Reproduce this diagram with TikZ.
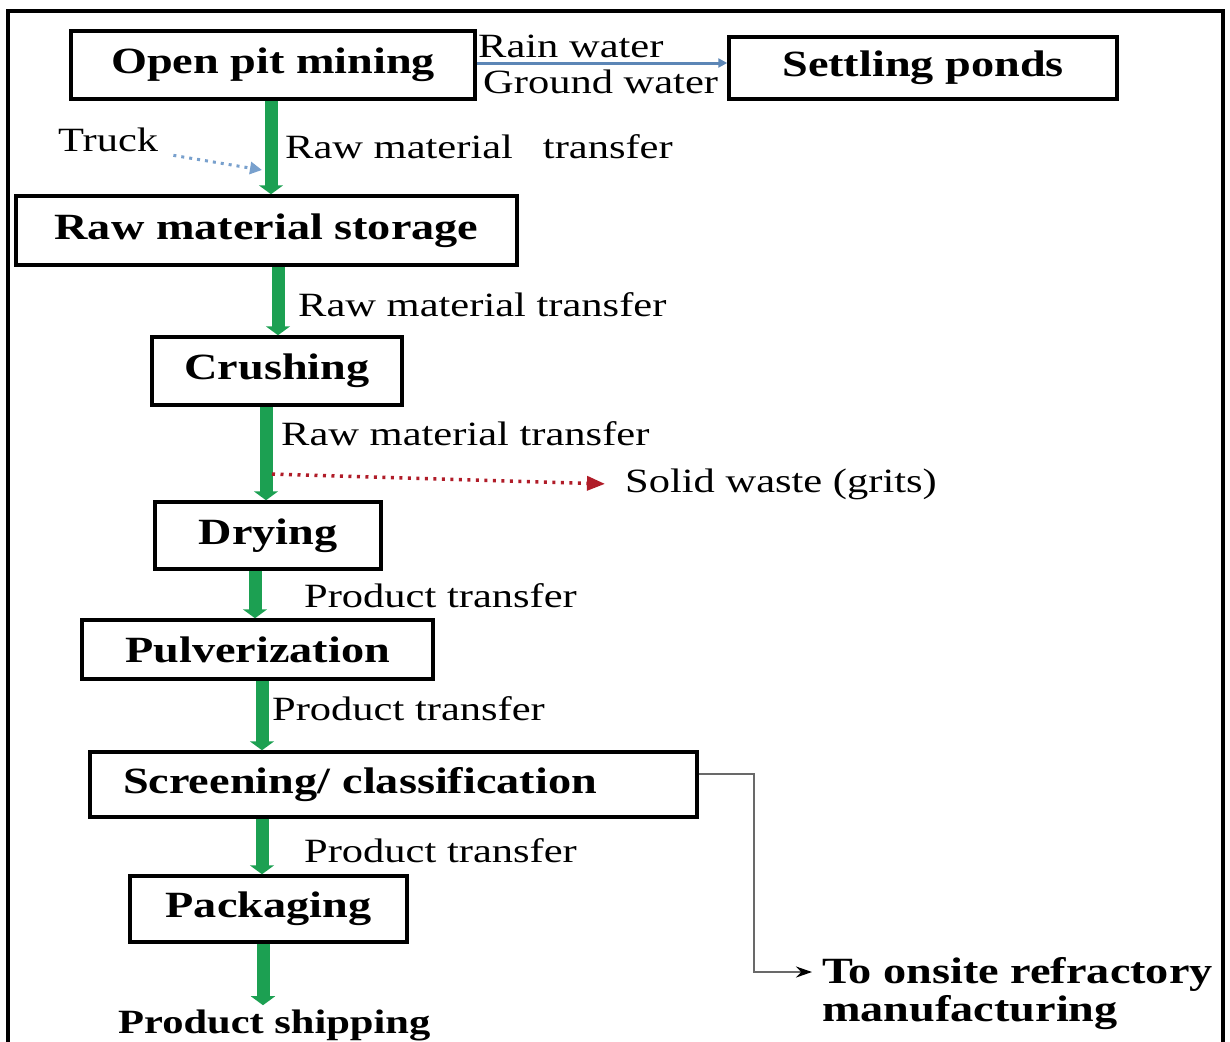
\documentclass[tikz,border=0pt]{standalone}
\usepackage{fontspec}
\setmainfont{Liberation Serif}[FakeStretch=1.25]
\usetikzlibrary{arrows.meta}

\definecolor{flowgreen}{RGB}{28,160,82}
\definecolor{waterblue}{RGB}{92,134,182}
\definecolor{truckblue}{RGB}{120,160,205}
\definecolor{wastered}{RGB}{176,28,40}
\definecolor{linkgray}{RGB}{105,105,105}

\newcommand\boxfont{\fontsize{37}{44}\selectfont\bfseries}
\newcommand\lblfont{\fontsize{34}{40}\selectfont}

\begin{document}
\begin{tikzpicture}[x=1pt,y=-1pt,
  stepbox/.style={draw=black, line width=3.5pt, inner sep=0pt, fill=white, font=\boxfont},
  lbl/.style={anchor=base west, inner sep=0pt, font=\lblfont},
  flow/.style={draw=flowgreen, line width=13pt, -{Triangle[width=24pt,length=9pt]}},
  water/.style={draw=waterblue, line width=3pt, -{Triangle[width=9pt,length=9pt]}},
  truckline/.style={draw=truckblue, line width=3pt, dash pattern=on 3pt off 5pt, -{Triangle[width=12pt,length=12pt]}},
  wasteline/.style={draw=wastered, line width=3.5pt, dash pattern=on 3pt off 5.5pt, -{Triangle[width=14pt,length=18pt]}},
  link/.style={draw=linkgray, line width=2pt, -{Stealth[length=16pt,width=11pt,color=black]}}
]
\useasboundingbox (0,0) rectangle (1230,1041);
\fill[white] (0,0) rectangle (1230,1041);

% outer frame (open at the bottom edge of the page)
\draw[line width=4pt] (8,11) rectangle (1223,1080);

% process steps
\node[stepbox, minimum width=404pt, minimum height=68pt] (open)   at (273,65)     {Open pit mining};
\node[stepbox, minimum width=388pt, minimum height=62pt] (settle) at (923,68)     {Settling ponds};
\node[stepbox, minimum width=501pt, minimum height=69pt] (store)  at (266.5,230.5) {Raw material storage};
\node[stepbox, minimum width=250pt, minimum height=68pt] (crush)  at (277,371)    {Crushing};
\node[stepbox, minimum width=226pt, minimum height=67pt] (dry)    at (268,535.5)  {Drying};
\node[stepbox, minimum width=351pt, minimum height=59pt] (pulv)   at (257.5,649.5) {Pulverization};
\node[stepbox, minimum width=607pt, minimum height=65pt, text width=541pt, align=left, inner xsep=33pt] (screen) at (393.5,784.5) {Screening/ classification};
\node[stepbox, minimum width=277pt, minimum height=66pt] (pack)   at (268.5,909)  {Packaging};

% end points
\node[anchor=base west, inner sep=0pt, font=\fontsize{34}{40}\selectfont\bfseries] (ship) at (118,1033) {Product shipping};
\node[anchor=north west, inner sep=0pt, align=left, font=\fontsize{37}{38}\selectfont\bfseries] (dest) at (822,957) {To onsite refractory\\manufacturing};

% flow labels
\node[lbl] (truck)  at (58,151)  {Truck};
\node[lbl] (rain)   at (478,58)  {Rain water};
\node[lbl] (ground) at (483,93)  {Ground water};
\node[lbl] (t1) at (285,158) {Raw material\hspace{30pt}transfer};
\node[lbl] (t2) at (298,316) {Raw material transfer};
\node[lbl] (t3) at (281,445) {Raw material transfer};
\node[lbl] (waste) at (625,492) {Solid waste (grits)};
\node[lbl] (t4) at (304,607) {Product transfer};
\node[lbl] (t5) at (272,720) {Product transfer};
\node[lbl] (t6) at (304,862) {Product transfer};

% columns of the main flow
\coordinate (c1) at (271,0);
\coordinate (c2) at (278,0);
\coordinate (c3) at (266,0);
\coordinate (c4) at (255,0);
\coordinate (c5) at (262,0);
\coordinate (c6) at (262,0);
\coordinate (c7) at (263,0);
\coordinate (truckin) at (262,170);
\coordinate (wasteout) at (272,474);
\coordinate (bend) at (754,972);

% main material flow
\draw[flow] (open.south -| c1) -- (store.north -| c1);
\draw[flow] (store.south -| c2) -- (crush.north -| c2);
\draw[flow] (crush.south -| c3) -- (dry.north -| c3);
\draw[flow] (dry.south -| c4) -- (pulv.north -| c4);
\draw[flow] (pulv.south -| c5) -- (screen.north -| c5);
\draw[flow] (screen.south -| c6) -- (pack.north -| c6);
\draw[flow, shorten >=4pt] (pack.south -| c7) -- (ship.north -| c7);

% side streams
\draw[water] ([yshift=2pt]open.east) -- ([yshift=5pt]settle.west);
\draw[truckline] ([xshift=15pt,yshift=-16pt]truck.east) -- (truckin);
\draw[wasteline] (wasteout) -- ([xshift=-20pt]waste.west);
\draw[link] ([yshift=10.5pt]screen.east) -| (bend) -- ([xshift=-10pt]bend -| dest.west);
\end{tikzpicture}
\end{document}
